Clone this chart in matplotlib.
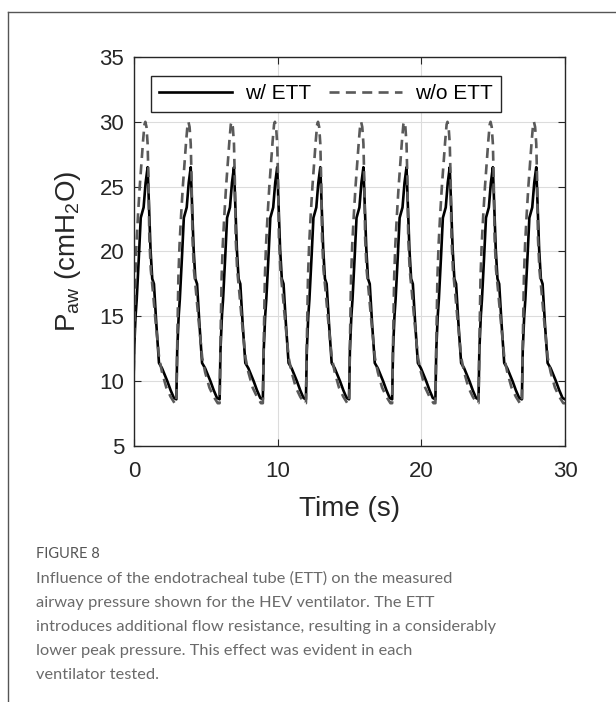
import matplotlib
matplotlib.use("Agg")
import matplotlib.pyplot as plt
import numpy as np
from matplotlib.lines import Line2D

plt.rcParams['font.family'] = ['Liberation Sans', 'DejaVu Sans']
plt.rcParams['mathtext.fontset'] = 'custom'
plt.rcParams['mathtext.rm'] = 'Liberation Sans'
plt.rcParams['mathtext.it'] = 'Liberation Sans:italic'

# one breath, time relative to the start of the breath (s)
solid_rel_t = [0.00, 0.06, 0.16, 0.24, 0.40, 0.52, 0.62, 0.72, 0.86, 1.00, 1.08, 1.20,
               1.32, 1.44, 1.60, 1.79, 2.00, 2.15, 2.37, 2.60, 2.83, 3.00]
solid_p = [8.6, 12.4, 15.0, 16.3, 19.8, 22.6, 23.0, 23.4, 25.3, 26.5, 24.0, 20.2,
           17.9, 17.5, 14.5, 11.4, 11.0, 10.6, 10.0, 9.3, 8.7, 8.6]

dashed_rel_t = [0.00, 0.07, 0.14, 0.22, 0.33, 0.45, 0.57, 0.68, 0.78, 0.84, 0.92, 1.00,
                1.06, 1.12, 1.22, 1.36, 1.52, 1.80, 2.00, 2.30, 2.60, 2.88, 3.00]
dashed_p = [8.3, 13.5, 18.0, 20.5, 22.8, 25.0, 26.8, 28.5, 29.8, 30.0, 29.6, 28.3,
            25.5, 21.0, 18.6, 17.0, 15.0, 11.8, 10.7, 9.5, 8.8, 8.3, 8.3]

# start time of each breath
breath_start = [-0.05, 2.95, 5.96, 8.97, 11.97, 14.97, 17.97, 20.98, 23.98, 27.0]

labels = ['w/ ETT', 'w/o ETT']
caption_title = 'FIGURE 8'
caption = ('Influence of the endotracheal tube (ETT) on the measured\n'
           'airway pressure shown for the HEV ventilator. The ETT\n'
           'introduces additional flow resistance, resulting in a considerably\n'
           'lower peak pressure. This effect was evident in each\n'
           'ventilator tested.')

t_w, p_w, t_wo, p_wo = [], [], [], []
for s in breath_start:
    t_w += [s + r for r in solid_rel_t]
    p_w += solid_p
    t_wo += [s + r for r in dashed_rel_t]
    p_wo += dashed_p

fig = plt.figure(figsize=(6.16, 7.02), dpi=100)
ax = fig.add_axes([0.2175, 0.3647, 0.6997, 0.5541])

ax.plot(t_w, p_w, color='black', lw=1.9, label=labels[0])
ax.plot(t_wo, p_wo, color='#5a5a5a', lw=1.9, ls=(0, (3.8, 2.4)), label=labels[1])

ax.set_xlim(0, 30)
ax.set_ylim(5, 35)
ax.set_xticks([0, 10, 20, 30])
ax.set_yticks([5, 10, 15, 20, 25, 30, 35])
ax.grid(True, color='#dcdcdc', lw=0.8)
ax.set_axisbelow(True)
ax.tick_params(direction='in', top=True, right=True, labelsize=16, length=5,
               color='#262626', labelcolor='#262626')
ax.tick_params(axis='x', pad=11)
ax.tick_params(axis='y', pad=7)
for sp in ax.spines.values():
    sp.set_color('#262626')
    sp.set_linewidth(1.0)

ax.set_xlabel('Time (s)', fontsize=20, color='#262626', labelpad=10)
ax.set_ylabel(r'P$_{\mathrm{aw}}$ (cmH$_2$O)', fontsize=20, color='#262626', labelpad=12)

leg = ax.legend(loc='upper left', bbox_to_anchor=(0.039, 0.951), borderaxespad=0,
                ncol=2, fontsize=15, fancybox=False, edgecolor='#262626',
                framealpha=1, handlelength=3.5, columnspacing=0.9,
                handletextpad=0.6, borderpad=0.4)
leg.get_frame().set_linewidth(1.0)

# page frame
fig.add_artist(Line2D([8 / 616, 1], [1 - 12 / 702, 1 - 12 / 702], color='#555555', lw=1.0))
fig.add_artist(Line2D([8 / 616, 8 / 616], [0, 1 - 12 / 702], color='#555555', lw=1.0))

fig.text(36 / 616, 1 - 554 / 702, caption_title, fontsize=10.5, color='#555555',
         family='Lato', va='center')
fig.text(36 / 616, 1 - 571 / 702, caption, fontsize=11.8, color='#6a6a6a',
         family='Lato', va='top', linespacing=1.93)

fig.savefig('out.png', dpi=100)
